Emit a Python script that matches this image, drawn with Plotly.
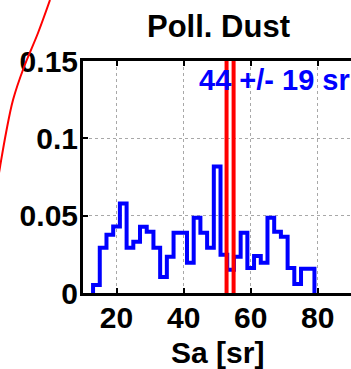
import plotly.graph_objects as go

# Lidar ratio histogram for polluted dust
bin_left_edges = [13, 15, 17, 19, 21, 23, 25, 27, 29, 31, 33, 35, 37, 39, 41, 43, 45,
                  47, 49, 51, 53, 55, 57, 59, 61, 63, 65, 67, 69, 71, 73, 75, 77]
bin_width = 2
frequency = [0.0052, 0.0292, 0.0377, 0.0430, 0.0578, 0.0292, 0.0331, 0.0429, 0.0396,
             0.0292, 0.0104, 0.0234, 0.0390, 0.0390, 0.0195, 0.0487, 0.0390, 0.0292,
             0.0818, 0.0247, 0.0150, 0.0234, 0.0390, 0.0162, 0.0240, 0.0195, 0.0487,
             0.0396, 0.0364, 0.0162, 0.0058, 0.0156, 0.0156]
mean_sa = 44
std_sa = 19
marker_lines = [52.8, 54.9]

x_ticks = [20, 40, 60, 80]
y_ticks = [0, 0.05, 0.1, 0.15]
y_tick_text = ["0", "0.05", "0.1", "0.15"]

# fragment of the neighbouring panel's curve (in that panel's frame)
left_panel_curve_x = [50, 38, 24, 13, 6, 0, -3]
left_panel_curve_y = [0, 33, 67, 100, 133, 167, 185]

W, H = 351, 369
FONT = "Liberation Sans, Arial, sans-serif"

# outline of the step histogram
step_x = [bin_left_edges[0]] + bin_left_edges + [bin_left_edges[-1] + bin_width]
step_y = [0] + frequency + [0]

fig = go.Figure()

fig.add_trace(go.Scatter(
    x=step_x, y=step_y, mode="lines", line_shape="hv",
    line=dict(color="#0000ff", width=4), xaxis="x", yaxis="y",
    cliponaxis=False, showlegend=False, hoverinfo="skip"))

for xv in marker_lines:
    fig.add_trace(go.Scatter(
        x=[xv, xv], y=[y_ticks[0], y_ticks[-1]], mode="lines",
        line=dict(color="#ff0000", width=4), xaxis="x", yaxis="y",
        showlegend=False, hoverinfo="skip"))

fig.add_trace(go.Scatter(
    x=left_panel_curve_x, y=left_panel_curve_y, mode="lines",
    line=dict(color="#ff0000", width=2, shape="spline"), xaxis="x2", yaxis="y2",
    showlegend=False, hoverinfo="skip"))

x0 = 83 / W
y0 = (H - 293) / H
y1 = (H - 61) / H

axis_common = dict(
    showline=True, linecolor="black", linewidth=3,
    ticks="inside", ticklen=5, tickwidth=2, tickcolor="black",
    showgrid=True, gridcolor="#a8a8a8", griddash="dot", gridwidth=1,
    zeroline=False, automargin=False, ticklabelstandoff=-4,
    tickfont=dict(family=FONT, size=30, color="black", weight="bold"),
)

fig.update_layout(
    width=W, height=H,
    margin=dict(l=0, r=0, t=0, b=0, autoexpand=False),
    paper_bgcolor="white", plot_bgcolor="rgba(0,0,0,0)",
    xaxis=dict(domain=[x0, 1.0], range=[10, 89.9], anchor="y",
               tickvals=x_ticks, mirror="allticks", **axis_common),
    yaxis=dict(domain=[y0, y1], range=[0, 0.15], anchor="x",
               tickvals=y_ticks, ticktext=y_tick_text, mirror=False,
               **axis_common),
    xaxis2=dict(domain=[0, 1], range=[0, W], visible=False, anchor="y2",
                automargin=False),
    yaxis2=dict(domain=[0, 1], range=[H, 0], visible=False, anchor="x2",
                automargin=False),
    annotations=[
        dict(text="<b>Poll. Dust</b>", xref="paper", yref="paper",
             x=218 / W, y=1 - 27 / H, xanchor="center", yanchor="middle",
             showarrow=False, font=dict(family=FONT, size=31, color="black")),
        dict(text="<b>Sa [sr]</b>", xref="paper", yref="paper",
             x=217 / W, y=1 - 352 / H, xanchor="center", yanchor="middle",
             showarrow=False, font=dict(family=FONT, size=30, color="black")),
        dict(text=f"<b>{mean_sa} +/- {std_sa} sr</b>", xref="x", yref="y",
             x=mean_sa, y=0.138, xanchor="left", yanchor="middle",
             showarrow=False, font=dict(family=FONT, size=29, color="#0000ff")),
    ],
)

fig.write_html("out.html")
